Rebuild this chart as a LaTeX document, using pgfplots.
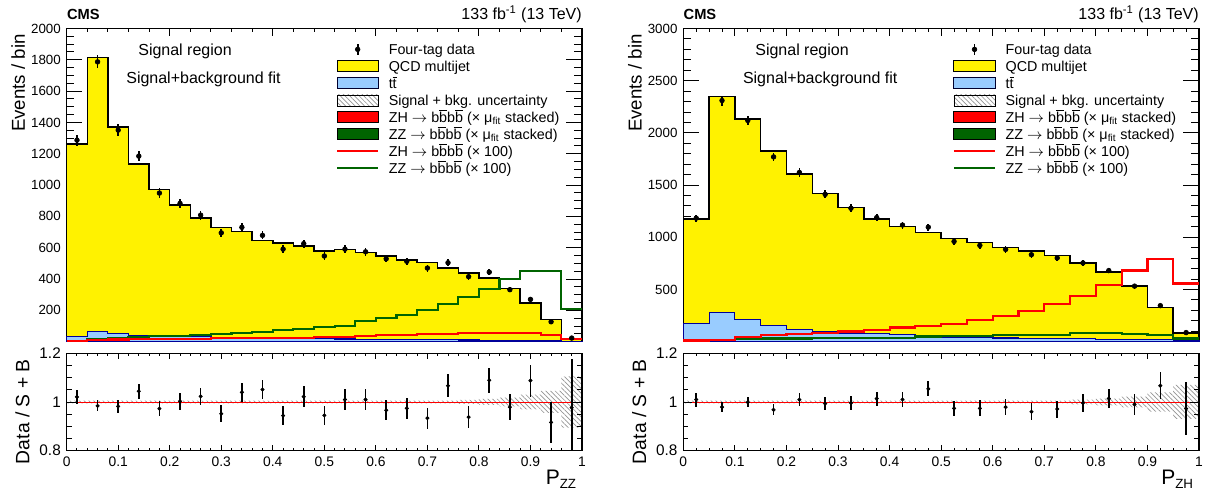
\documentclass[border=0pt]{standalone}
\usepackage{fontspec}
\setmainfont{Liberation Sans}
\usepackage{pgfplots}
\usepackage{pgfplotstable}
\pgfplotsset{compat=1.18}
\usetikzlibrary{patterns.meta}

\definecolor{ttfill}{RGB}{153,204,255}
\definecolor{ttline}{RGB}{0,0,153}
\definecolor{zzgreen}{RGB}{0,100,0}

% left: P_ZZ, 25 bins of 0.04 (lower edge, total stack, ttbar, ZH x100, ZZ x100)
\pgfplotstableread{
lo   tot  tt zh zz
0.00 1262 31  3   5
0.04 1815 63 10  17
0.08 1372 51 14  23
0.12 1134 42 16  30
0.16  972 36 17  36
0.20  874 31 18  38
0.24  791 31 19  40
0.28  730 27 21  47
0.32  702 27 23  53
0.36  647 23 24  60
0.40  630 22 26  76
0.44  610 20 25  80
0.48  580 18 32  95
0.52  589 17 32 102
0.56  568 16 36 131
0.60  547 15 42 151
0.64  521 14 42 168
0.68  504 13 49 204
0.72  472 12 49 240
0.76  440 11 53 283
0.80  408 10 57 334
0.84  338  9 57 402
0.88  248  8 53 453
0.92  142  6 40 453
0.96   19  3 15 210
1.00   19  3 15 210
}\histL

\pgfplotstableread{
x    y    e
0.02 1287 36
0.06 1787 42
0.10 1351 37
0.14 1185 34
0.18  949 31
0.22  883 30
0.26  808 28
0.30  695 26
0.34  730 27
0.38  679 26
0.42  591 24
0.46  626 25
0.50  547 23
0.54  591 24
0.58  574 24
0.62  529 23
0.66  513 23
0.70  470 22
0.74  504 22
0.78  415 20
0.82  444 21
0.86  332 18
0.90  270 16
0.94  127 11
0.98   23  5
}\dataL

\pgfplotstableread{
x    r     e
0.02 1.021 0.028
0.06 0.984 0.023
0.10 0.982 0.027
0.14 1.044 0.030
0.18 0.973 0.032
0.22 1.003 0.034
0.26 1.023 0.035
0.30 0.952 0.036
0.34 1.040 0.038
0.38 1.051 0.040
0.42 0.944 0.039
0.46 1.022 0.042
0.50 0.945 0.040
0.54 1.010 0.042
0.58 1.010 0.042
0.62 0.966 0.042
0.66 0.974 0.043
0.70 0.934 0.043
0.74 1.067 0.047
0.78 0.938 0.046
0.82 1.089 0.052
0.86 0.979 0.054
0.90 1.088 0.066
0.94 0.916 0.085
0.98 0.977 0.200
}\ratioL

\pgfplotstableread{
lo   up    dn
0.00 1.006 0.994
0.76 1.009 0.991
0.80 1.013 0.987
0.84 1.018 0.982
0.88 1.030 0.970
0.92 1.046 0.954
0.96 1.105 0.895
1.00 1.105 0.895
}\bandL

% right: P_ZH, 20 bins of 0.05
\pgfplotstableread{
lo   tot  tt  zh  zz
0.00 1176 173  11 15
0.05 2350 278  14 15
0.10 2135 211  43 28
0.15 1827 157  62 30
0.20 1608 116  71 30
0.25 1417  94  87 32
0.30 1284  81  97 33
0.35 1176  75 113 35
0.40 1105  65 135 38
0.45 1046  62 151 50
0.50  986  45 173 55
0.55  948  40 205 55
0.60  900  35 246 60
0.65  868  32 290 60
0.70  824  30 357 65
0.75  754  28 437 81
0.80  665  22 544 81
0.85  532  20 681 75
0.90  325  18 792 65
0.95   81  10 557 30
1.00   81  10 557 30
}\histR

\pgfplotstableread{
x     y    e
0.025 1183 34
0.075 2310 48
0.125 2119 46
0.175 1770 42
0.225 1621 40
0.275 1411 38
0.325 1278 36
0.375 1189 34
0.425 1117 33
0.475 1097 33
0.525  960 31
0.575  922 30
0.625  884 30
0.675  833 29
0.725  802 28
0.775  754 27
0.825  681 26
0.875  532 23
0.925  345 19
0.975   87  9
}\dataR

\pgfplotstableread{
x     r     e
0.025 1.010 0.029
0.075 0.979 0.020
0.125 0.999 0.021
0.175 0.968 0.023
0.225 1.010 0.025
0.275 0.993 0.026
0.325 0.996 0.028
0.375 1.014 0.029
0.425 1.010 0.030
0.475 1.054 0.031
0.525 0.974 0.032
0.575 0.974 0.033
0.625 0.979 0.034
0.675 0.960 0.035
0.725 0.971 0.035
0.775 0.996 0.036
0.825 1.014 0.038
0.875 0.990 0.043
0.925 1.067 0.055
0.975 0.973 0.110
}\ratioR

\pgfplotstableread{
lo   up    dn
0.00 1.006 0.994
0.75 1.010 0.990
0.80 1.014 0.986
0.85 1.022 0.978
0.90 1.040 0.960
0.95 1.070 0.930
1.00 1.070 0.930
}\bandR

\pgfplotsset{
  cms/.style={
    scale only axis, xmin=0, xmax=1,
    tick align=inside,
    axis line style={line width=0.8pt},
    every tick/.append style={black, line width=0.6pt},
    ticklabel style={font=\fontsize{8}{9}\selectfont},
  },
  mainax/.style={cms, width=309.2pt, height=187.9pt, clip=false,
    xticklabel={\mbox{}},
    every major x tick/.append style={/pgfplots/major tick length=4.8pt},
    every minor x tick/.append style={/pgfplots/minor tick length=2.4pt},
    every major y tick/.append style={/pgfplots/major tick length=9.4pt},
    every minor y tick/.append style={/pgfplots/minor tick length=4.6pt},
    ylabel={Events / bin},
    ylabel style={at={([xshift=-25pt]rel axis cs:0,1)}, anchor=base east, font=\fontsize{11.2}{13}\selectfont},
    legend style={at={(0.5225,0.9604)}, anchor=north west, draw=none, fill=none,
      inner sep=0pt, outer sep=0pt, row sep=0pt, column sep=5.6pt,
      font=\fontsize{8.6}{10}\selectfont,
      nodes={inner sep=0pt, text height=8.2pt, text depth=2pt}},
    legend cell align=left,
  },
  ratioax/.style={cms, width=309.2pt, height=58.4pt, axis on top,
    ymin=0.8, ymax=1.2, ytick={0.8,1,1.2}, yticklabels={0.8,1,1.2},
    minor ytick={0.85,0.9,0.95,1.05,1.1,1.15},
    xtick={0,0.1,0.2,0.3,0.4,0.5,0.6,0.7,0.8,0.9,1},
    xticklabels={0,0.1,0.2,0.3,0.4,0.5,0.6,0.7,0.8,0.9,1},
    x tick label style={font=\fontsize{8.3}{9}\selectfont},
    y tick label style={font=\fontsize{9.2}{10}\selectfont},
    every major x tick/.append style={/pgfplots/major tick length=3.6pt},
    every minor x tick/.append style={/pgfplots/minor tick length=1.8pt},
    every major y tick/.append style={/pgfplots/major tick length=5.4pt},
    every minor y tick/.append style={/pgfplots/minor tick length=3pt},
    ylabel={Data / S + B},
    ylabel style={at={([xshift=-22.4pt]rel axis cs:0,1)}, anchor=base east, font=\fontsize{11.6}{13}\selectfont},
    xlabel style={at={([yshift=-20.2pt]rel axis cs:1,0)}, anchor=base east, font=\fontsize{12.6}{14}\selectfont},
  },
  hband/.style={pattern={Lines[angle=-45,distance=2pt,line width=0.4pt]}, pattern color=gray!85},
  legdata/.style={legend image code/.code={\draw[black,line width=1pt] (12.4pt,-3.2pt)--(12.4pt,3.2pt); \fill[black] (12.4pt,0pt) circle (1.4pt);}},
  legqcd/.style={legend image code/.code={\draw[fill=yellow,draw=black,line width=0.6pt] (0pt,-3.3pt) rectangle (24.8pt,3.3pt);}},
  legtt/.style={legend image code/.code={\draw[fill=ttfill,draw=black!70!ttline,line width=0.6pt] (0pt,-3.3pt) rectangle (24.8pt,3.3pt);}},
  legunc/.style={legend image code/.code={\fill[pattern={Lines[angle=-45,distance=2pt,line width=0.4pt]}, pattern color=gray!85] (0pt,-3.3pt) rectangle (24.8pt,3.3pt);}},
  legzhs/.style={legend image code/.code={\draw[fill=red,draw=black,line width=0.6pt] (0pt,-3.3pt) rectangle (24.8pt,3.3pt);}},
  legzzs/.style={legend image code/.code={\draw[fill=zzgreen,draw=black,line width=0.6pt] (0pt,-3.3pt) rectangle (24.8pt,3.3pt);}},
  legzhl/.style={legend image code/.code={\draw[red,line width=1.3pt] (0pt,0pt)--(24.8pt,0pt);}},
  legzzl/.style={legend image code/.code={\draw[zzgreen,line width=1.3pt] (0pt,0pt)--(24.8pt,0pt);}},
  datapts/.style={only marks, mark=*, black, forget plot,
    error bars/y dir=both, error bars/y explicit, error bars/error mark=none,
    error bars/error bar style={line width=1pt}},
}

\newcommand{\bbbar}{b$\overline{\hbox{b}}$b$\overline{\hbox{b}}$}
\newcommand{\cmslegend}{%
  \addlegendimage{legdata}\addlegendentry{Four-tag data}
  \addlegendimage{legqcd}\addlegendentry{QCD multijet}
  \addlegendimage{legtt}\addlegendentry{t$\overline{\hbox{t}}$}
  \addlegendimage{legunc}\addlegendentry{Signal + bkg. uncertainty}
  \addlegendimage{legzhs}\addlegendentry{ZH $\rightarrow$ \bbbar{} (× μ\textsubscript{fit} stacked)}
  \addlegendimage{legzzs}\addlegendentry{ZZ $\rightarrow$ \bbbar{} (× μ\textsubscript{fit} stacked)}
  \addlegendimage{legzhl}\addlegendentry{ZH $\rightarrow$ \bbbar{} (× 100)}
  \addlegendimage{legzzl}\addlegendentry{ZZ $\rightarrow$ \bbbar{} (× 100)}
}

\begin{document}
\begin{tikzpicture}
\useasboundingbox (0,0) rectangle (728.4pt,294.6pt);

% ---------- left, main ----------
\begin{axis}[mainax, at={(40pt,89.6pt)}, anchor=south west,
  ymin=0, ymax=2000, ytick={0,200,...,2000},
  yticklabels={,200,400,600,800,1000,1200,1400,1600,1800,2000},
  xtick={0,0.2,0.4,0.6,0.8,1}, minor x tick num=4, minor y tick num=3]
\addplot[const plot, fill=yellow, draw=black, line width=0.9pt, forget plot] table[x=lo,y=tot]{\histL} \closedcycle;
\addplot[const plot, fill=ttfill, draw=ttline, line width=0.7pt, forget plot] table[x=lo,y=tt]{\histL} \closedcycle;
\addplot[const plot, draw=zzgreen, line width=1.3pt, forget plot] table[x=lo,y=zz]{\histL};
\addplot[const plot, draw=red, line width=1.3pt, forget plot] table[x=lo,y=zh]{\histL};
\addplot[mark size=1.4pt, datapts] table[x=x,y=y,y error=e]{\dataL};
\cmslegend
\end{axis}

% ---------- left, ratio ----------
\begin{axis}[ratioax, at={(40pt,24.2pt)}, anchor=south west,
  minor x tick num=4, xlabel={P\raisebox{-2.2pt}{\fontsize{8}{9}\selectfont ZZ}}]
\addplot[const plot, hband, draw=none, forget plot] table[x=lo,y=up]{\bandL} \closedcycle;
\addplot[const plot, fill=white, draw=none, forget plot] table[x=lo,y=dn]{\bandL} \closedcycle;
\addplot[red, line width=0.6pt, forget plot] coordinates {(0,1) (1,1)};
\addplot[mark size=1pt, datapts] table[x=x,y=r,y error=e]{\ratioL};
\end{axis}

% ---------- right, main ----------
\begin{axis}[mainax, at={(410pt,89.6pt)}, anchor=south west, width=309.4pt,
  ymin=0, ymax=3000, ytick={0,500,...,3000},
  yticklabels={,500,1000,1500,2000,2500,3000},
  xtick={0,0.1,0.2,0.3,0.4,0.5,0.6,0.7,0.8,0.9,1}, minor x tick num=3, minor y tick num=4]
\addplot[const plot, fill=yellow, draw=black, line width=0.9pt, forget plot] table[x=lo,y=tot]{\histR} \closedcycle;
\addplot[const plot, fill=ttfill, draw=ttline, line width=0.7pt, forget plot] table[x=lo,y=tt]{\histR} \closedcycle;
\addplot[const plot, draw=zzgreen, line width=1.3pt, forget plot] table[x=lo,y=zz]{\histR};
\addplot[const plot, draw=red, line width=1.3pt, forget plot] table[x=lo,y=zh]{\histR};
\addplot[mark size=1.4pt, datapts] table[x=x,y=y,y error=e]{\dataR};
\cmslegend
\end{axis}

% ---------- right, ratio ----------
\begin{axis}[ratioax, at={(410pt,24.2pt)}, anchor=south west, width=309.4pt,
  minor x tick num=3, xlabel={P\raisebox{-2.2pt}{\fontsize{8}{9}\selectfont ZH}}]
\addplot[const plot, hband, draw=none, forget plot] table[x=lo,y=up]{\bandR} \closedcycle;
\addplot[const plot, fill=white, draw=none, forget plot] table[x=lo,y=dn]{\bandR} \closedcycle;
\addplot[red, line width=0.6pt, forget plot] coordinates {(0,1) (1,1)};
\addplot[mark size=1pt, datapts] table[x=x,y=r,y error=e]{\ratioR};
\end{axis}

% ---------- texts ----------
\node[anchor=base west, font=\bfseries\fontsize{8.8}{10}\selectfont, inner sep=0pt] at (40pt,282.6pt) {CMS};
\node[anchor=base east, font=\fontsize{9.6}{11}\selectfont, inner sep=0pt] at (349.2pt,282.6pt) {133 fb\textsuperscript{-1} (13 TeV)};
\node[anchor=base west, font=\fontsize{9.6}{11}\selectfont, inner sep=0pt] at (82.8pt,261.0pt) {Signal region};
\node[anchor=base west, font=\fontsize{9.6}{11}\selectfont, inner sep=0pt] at (75.6pt,244.2pt) {Signal+background fit};
\node[anchor=base west, font=\bfseries\fontsize{8.8}{10}\selectfont, inner sep=0pt] at (410pt,282.6pt) {CMS};
\node[anchor=base east, font=\fontsize{9.6}{11}\selectfont, inner sep=0pt] at (719.4pt,282.6pt) {133 fb\textsuperscript{-1} (13 TeV)};
\node[anchor=base west, font=\fontsize{9.6}{11}\selectfont, inner sep=0pt] at (453pt,261.0pt) {Signal region};
\node[anchor=base west, font=\fontsize{9.6}{11}\selectfont, inner sep=0pt] at (445.6pt,244.2pt) {Signal+background fit};
\end{tikzpicture}
\end{document}
